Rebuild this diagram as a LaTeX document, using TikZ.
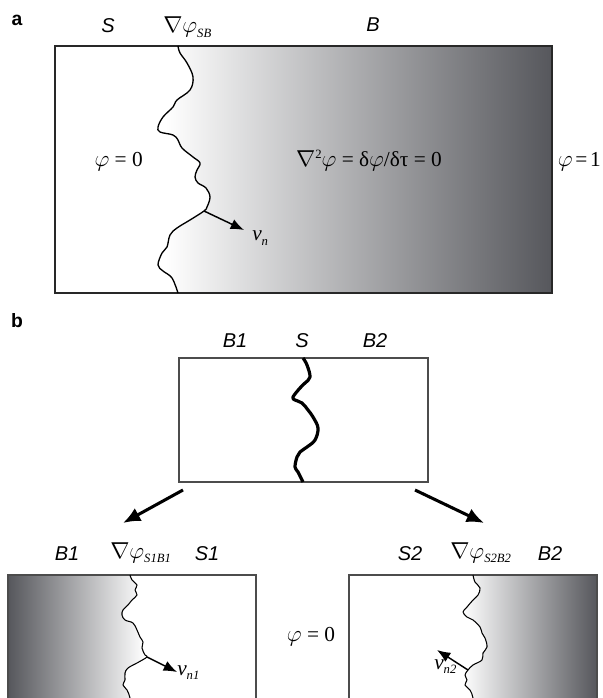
\documentclass[tikz,border=0pt]{standalone}
\usepackage{fontspec}
\setmainfont{Liberation Serif}
\setsansfont{Liberation Sans}
\usetikzlibrary{arrows.meta}
\definecolor{dk}{RGB}{86,87,92}
\definecolor{edge}{RGB}{40,40,40}
\newcommand\mysub[1]{\raisebox{-0.5ex}{\fontsize{9.5}{11}\selectfont\itshape #1}}
\newcommand\mysup[1]{\raisebox{0.85ex}{\fontsize{9.5}{11}\selectfont #1}}
\begin{document}
\begin{tikzpicture}[x=0.75pt,y=-0.75pt,
 sanslab/.style={font=\fontsize{15}{18}\selectfont\sffamily\itshape,inner sep=0pt},
 panellab/.style={font=\fontsize{14.5}{17}\selectfont\sffamily\bfseries,inner sep=0pt},
 serlab/.style={font=\fontsize{16}{19}\selectfont,inner sep=0pt},
 boxa/.style={draw=edge,line width=1.1pt},
 boxb/.style={draw=black!70,line width=0.8pt},
 ifthin/.style={line width=1pt,line join=round},
 ifthick/.style={line width=2.4pt,line join=round},
 arr/.style={line width=1.1pt,-{Latex[length=10pt,width=8pt]}},
 bigarr/.style={line width=2.3pt,-{Latex[length=13pt,width=11pt]}},
]
\useasboundingbox (0,0) rectangle (602,698);
\clip (0,0) rectangle (602,698);

% ---------------- panel a ----------------
\begin{scope}
\clip plot[smooth,tension=0.6] coordinates {(178,46) (180,53) (187,63) (193,77) (190,90) (177,100) (173,107) (163,117) (158,127) (160,132) (173,135) (178,140) (182,148) (193,157) (200,163) (197,170) (195,177) (198,183) (206,188) (210,197) (207,207) (204,211) (190,220) (177,228) (170,235) (167,247) (162,253) (158,265) (163,271) (172,278) (178,293)} -- (552,293) -- (552,46) -- cycle;
\shade[left color=white,right color=dk] (165,46) rectangle (552,293);
\end{scope}
\draw[boxa] (55,46) rectangle (552,293);
\draw[ifthin] plot[smooth,tension=0.6] coordinates {(178,46) (180,53) (187,63) (193,77) (190,90) (177,100) (173,107) (163,117) (158,127) (160,132) (173,135) (178,140) (182,148) (193,157) (200,163) (197,170) (195,177) (198,183) (206,188) (210,197) (207,207) (204,211) (190,220) (177,228) (170,235) (167,247) (162,253) (158,265) (163,271) (172,278) (178,293)};
\coordinate (ja) at (204,211);
\coordinate (ta) at (244,230);
\draw[arr] (ja) -- (ta);

\node[panellab,anchor=base] (la) at (17,26) {a};
\node[sanslab,anchor=base] (sa) at (108,33) {S};
\node[serlab,anchor=base west] (ga) at (163,33) {$\nabla$$\varphi$\mysub{SB}};
\node[sanslab,anchor=base] (ba) at (373,32) {B};
\node[serlab,anchor=base east] (p0a) at (143,167) {$\varphi$ = 0};
\node[serlab,anchor=base] (eqa) at (369,167) {$\nabla$\mysup{2}$\varphi$ = δ$\varphi$/δτ = 0};
\node[serlab,anchor=base east] (p1a) at (601,167) {$\varphi$\kern2pt=\kern2pt1};
\node[serlab,anchor=base west] (vna) at (252,241) {\textit{v}\mysub{n}};

% ---------------- panel b ----------------
\node[panellab,anchor=base] (lb) at (17,327) {b};
\draw[boxb] (179,358) rectangle (428,482);
\draw[ifthick] plot[smooth,tension=0.6] coordinates {(303,358) (307,365) (310,377) (305,383) (300,388) (293,397) (295,400) (302,403) (308,410) (313,417) (318,428) (315,440) (307,447) (300,452) (297,457) (295,467) (298,472) (303,482)};
\node[sanslab,anchor=base] (b1t) at (235,347) {B1};
\node[sanslab,anchor=base] (st) at (302,347) {S};
\node[sanslab,anchor=base] (b2t) at (375,347) {B2};

\coordinate (al0) at (183,490);
\coordinate (al1) at (123,523);
\coordinate (ar0) at (415,490);
\coordinate (ar1) at (484,523);
\draw[bigarr] (al0) -- (al1);
\draw[bigarr] (ar0) -- (ar1);

% bottom left
\begin{scope}
\clip (8,575) -- plot[smooth,tension=0.6] coordinates {(130,575) (132,580) (137,585) (135,590) (137,595) (132,600) (128,605) (123,610) (122,615) (125,620) (133,623) (137,630) (140,637) (143,642) (142,648) (145,655) (147,657) (137,663) (128,668) (125,673) (125,680) (123,685) (127,690) (130,698) (131,710)} -- (8,710) -- cycle;
\shade[left color=dk,right color=white] (8,575) rectangle (145,710);
\end{scope}
\draw[boxb] (8,575) rectangle (256,710);
\draw[ifthin,line width=0.8pt] plot[smooth,tension=0.6] coordinates {(130,575) (132,580) (137,585) (135,590) (137,595) (132,600) (128,605) (123,610) (122,615) (125,620) (133,623) (137,630) (140,637) (143,642) (142,648) (145,655) (147,657) (137,663) (128,668) (125,673) (125,680) (123,685) (127,690) (130,698) (131,710)};
\coordinate (j1) at (147,657);
\coordinate (t1) at (177,672);
\draw[arr] (j1) -- (t1);
\node[serlab,anchor=base west] (vn1) at (177,675) {\textit{v}\mysub{n1}};

% bottom right
\begin{scope}
\clip (597,575) -- plot[smooth,tension=0.6] coordinates {(473,575) (475,582) (480,588) (478,595) (473,600) (467,607) (463,612) (467,617) (473,620) (480,627) (482,633) (485,638) (487,647) (483,653) (482,660) (473,665) (468,670) (465,675) (467,680) (465,685) (470,690) (473,698) (474,710)} -- (597,710) -- cycle;
\shade[left color=white,right color=dk] (462,575) rectangle (597,710);
\end{scope}
\draw[boxb] (349,575) rectangle (597,710);
\draw[ifthin,line width=0.8pt] plot[smooth,tension=0.6] coordinates {(473,575) (475,582) (480,588) (478,595) (473,600) (467,607) (463,612) (467,617) (473,620) (480,627) (482,633) (485,638) (487,647) (483,653) (482,660) (473,665) (468,670) (465,675) (467,680) (465,685) (470,690) (473,698) (474,710)};
\coordinate (j2) at (468,670);
\coordinate (t2) at (437,650);
\draw[arr] (j2) -- (t2);
\node[serlab,anchor=base west] (vn2) at (434,669) {\textit{v}\mysub{n2}};

\node[sanslab,anchor=base] (b1b) at (67,560) {B1};
\node[serlab,anchor=base west] (g1) at (110,558) {$\nabla$$\varphi$\mysub{S1B1}};
\node[sanslab,anchor=base] (s1b) at (207,560) {S1};
\node[sanslab,anchor=base] (s2b) at (410,560) {S2};
\node[serlab,anchor=base west] (g2) at (450,558) {$\nabla$$\varphi$\mysub{S2B2}};
\node[sanslab,anchor=base] (b2b) at (550,560) {B2};
\node[serlab,anchor=base] (p0b) at (311,641) {$\varphi$ = 0};
\end{tikzpicture}
\end{document}
